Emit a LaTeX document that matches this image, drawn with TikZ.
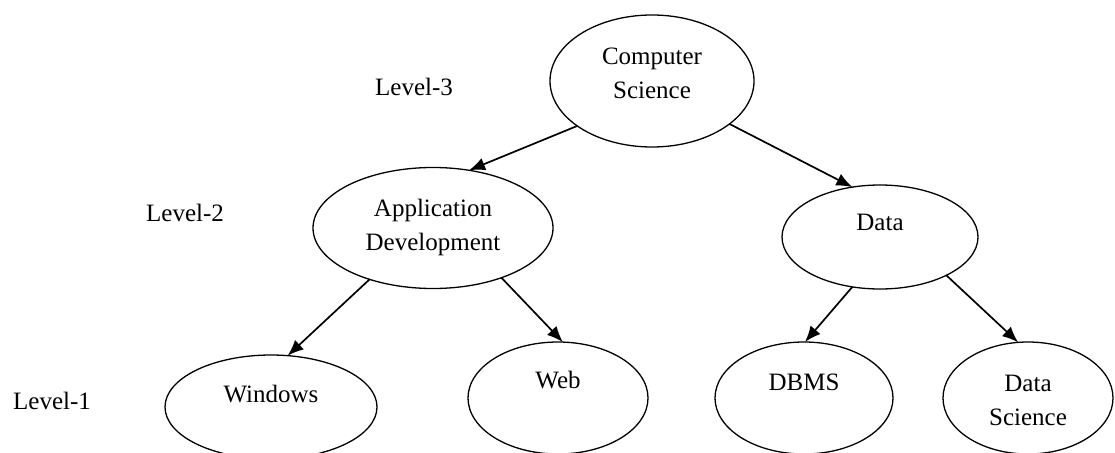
\documentclass[tikz,border=0pt]{standalone}
\usepackage{fontspec}
\setmainfont{Liberation Serif}
\usetikzlibrary{arrows.meta,shapes.geometric}

\begin{document}
\begin{tikzpicture}[x=1pt,y=-1pt,inner sep=0pt,outer sep=0pt,
font=\fontsize{25}{34}\selectfont,
topic/.style={draw,ellipse,line width=1.3pt,align=center,text height=17pt},
>={Latex[length=16pt,width=13pt]}]

\useasboundingbox (0,0) rectangle (1115,452);

\draw (652,81) node[topic,minimum width=204pt,minimum height=132pt,text height=51pt,text depth=17pt] (cs) {Computer\\Science};
\draw (433,228) node[topic,minimum width=240pt,minimum height=121pt,text height=50pt,text depth=6pt] (ad) {Application\\Development};
\draw (880,237) node[topic,minimum width=196pt,minimum height=104pt,text depth=31pt] (data) {Data};
\draw (271,407) node[topic,minimum width=212pt,minimum height=104pt,text depth=27pt] (win) {Windows};
\draw (558,398) node[topic,minimum width=180pt,minimum height=112pt,text depth=37pt] (web) {Web};
\draw (804,398) node[topic,minimum width=178pt,minimum height=112pt,text depth=33pt] (dbms) {DBMS};
\draw (1028,398) node[topic,minimum width=170pt,minimum height=112pt,text height=60pt,text depth=6pt] (dsci) {Data\\Science};

\draw (414,95) node[anchor=base] (lv3) {Level-3};
\draw (185,221) node[anchor=base] (lv2) {Level-2};
\draw (52,409) node[anchor=base] (lv1) {Level-1};

\draw[->,line width=1.7pt] (cs.211) -- (ad.58);
\draw[->,line width=1.7pt] (cs.-29) -- (data.119);
\draw[->,line width=1.7pt] (ad.219) -- (win.72);
\draw[->,line width=1.7pt] (ad.-36) -- (web.85);
\draw[->,line width=1.7pt] (data.241) -- (dbms.89);
\draw[->,line width=1.7pt] (data.-30) -- (dsci.100);

\end{tikzpicture}
\end{document}
